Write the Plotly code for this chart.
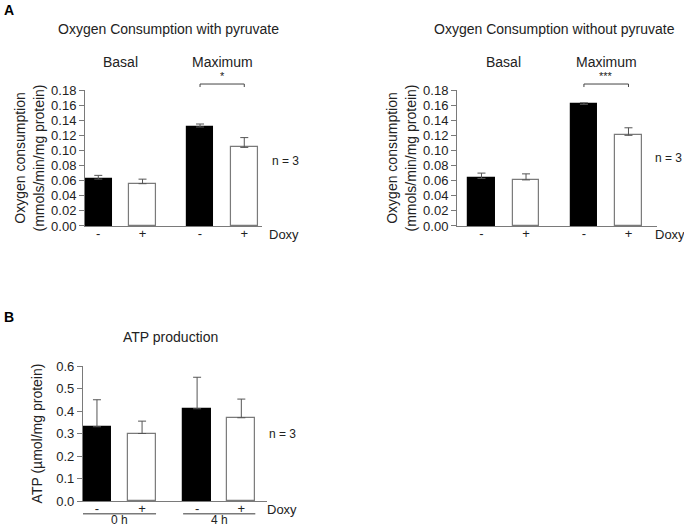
import plotly.graph_objects as go

# ---- dati ----
doxy = ["-", "+", "-", "+"]

pyr_mean = [0.062, 0.056, 0.131, 0.104]
pyr_err = [0.005, 0.006, 0.004, 0.013]

nopyr_mean = [0.063, 0.061, 0.161, 0.120]
nopyr_err = [0.007, 0.008, 0.002, 0.010]

atp_mean = [0.33, 0.30, 0.41, 0.37]
atp_err = [0.12, 0.055, 0.14, 0.083]

groups_a = ["Basal", "Maximum"]
groups_b = ["0 h", "4 h"]

# posizioni delle barre (layout)
pos_a = [0, 1, 2.3, 3.3]
pos_b = [0, 1, 2.22, 3.2]

FONT = "Arial, Liberation Sans, sans-serif"
GREY = "#7a7a7a"
fill = ["black", "white", "black", "white"]
edge = ["black", GREY, "black", GREY]

fig = go.Figure()


def add_bars(mean, err, pos, width, ax):
    fig.add_trace(go.Bar(
        x=pos, y=mean, width=width,
        marker=dict(color=fill, line=dict(color=edge, width=1.2)),
        error_y=dict(type="data", symmetric=False, array=err,
                     arrayminus=[0] * len(err), color="#555",
                     thickness=1, width=4),
        xaxis="x" + ax, yaxis="y" + ax, showlegend=False,
    ))


add_bars(pyr_mean, pyr_err, pos_a, 0.6, "")
add_bars(nopyr_mean, nopyr_err, pos_a, 0.6, "2")
add_bars(atp_mean, atp_err, pos_b, 0.62, "3")

xcommon = dict(showline=True, linecolor=GREY, linewidth=1, ticks="",
               showgrid=False, zeroline=False, tickmode="array",
               ticktext=doxy, tickfont=dict(size=13, color="#222"),
               ticklabelstandoff=-5, automargin=False)
ycommon = dict(showline=True, linecolor=GREY, linewidth=1, ticks="outside",
               ticklen=5, tickcolor=GREY, showgrid=False, zeroline=False,
               tickfont=dict(size=13, color="#222"), automargin=False)

ytitle_o2 = "Oxygen consumption<br>(mmols/min/mg protein)"

fig.update_layout(
    width=684, height=527,
    margin=dict(l=0, r=0, t=0, b=0),
    paper_bgcolor="white", plot_bgcolor="white",
    font=dict(family=FONT, size=13, color="#222"),
    bargap=0,
    xaxis=dict(xcommon, domain=[0.1243, 0.3830], range=[-0.3, 3.7],
               tickvals=pos_a, anchor="y"),
    yaxis=dict(ycommon, domain=[0.5712, 0.8292], range=[0, 0.18],
               dtick=0.02, tickformat=".2f", anchor="x",
               title=dict(text=ytitle_o2, standoff=3, font=dict(size=14))),
    xaxis2=dict(xcommon, domain=[0.6681, 0.9605], range=[-0.55, 3.94],
                tickvals=pos_a, anchor="y2"),
    yaxis2=dict(ycommon, domain=[0.5712, 0.8292], range=[0, 0.18],
                dtick=0.02, tickformat=".2f", anchor="x2",
                title=dict(text=ytitle_o2, standoff=3, font=dict(size=14))),
    xaxis3=dict(xcommon, domain=[0.1213, 0.3904], range=[-0.31, 3.77],
                tickvals=pos_b, anchor="y3"),
    yaxis3=dict(ycommon, domain=[0.0493, 0.3055], range=[0, 0.6],
                dtick=0.1, tickformat=".1f", anchor="x3",
                title=dict(text="ATP (µmol/mg protein)", standoff=10,
                           font=dict(size=14))),
)

ann = []
shapes = []

# lettere dei pannelli e titoli
ann.append(dict(text="<b>A</b>", x=0.003, y=1.0, xref="paper", yref="paper",
                xanchor="left", yanchor="top", font=dict(size=14, color="black")))
ann.append(dict(text="<b>B</b>", x=0.003, y=0.418, xref="paper", yref="paper",
                xanchor="left", yanchor="top", font=dict(size=14, color="black")))
ann.append(dict(text="Oxygen Consumption with pyruvate", x=0.247, y=0.945,
                xref="paper", yref="paper", font=dict(size=14)))
ann.append(dict(text="Oxygen Consumption without pyruvate", x=0.81, y=0.945,
                xref="paper", yref="paper", font=dict(size=14)))
ann.append(dict(text="ATP production", x=0.249, y=0.3605,
                xref="paper", yref="paper", font=dict(size=14)))

for ax, star in [("", "*"), ("2", "***")]:
    xr, yr = "x" + ax, "y" + ax + " domain"
    for g, name in enumerate(groups_a):
        xm = (pos_a[2 * g] + pos_a[2 * g + 1]) / 2
        ann.append(dict(text=name, x=xm, y=1.206, xref=xr, yref=yr,
                        font=dict(size=14)))
    # parentesi di significatività
    shapes.append(dict(type="path", xref=xr, yref=yr,
                       path=f"M {pos_a[2]},1.022 L {pos_a[2]},1.044 L {pos_a[3]},1.044 L {pos_a[3]},1.022",
                       line=dict(color="#444", width=1)))
    ann.append(dict(text=star, x=(pos_a[2] + pos_a[3]) / 2, y=1.1, xref=xr, yref=yr,
                    font=dict(size=11)))
    ann.append(dict(text="Doxy", x=1.03 if ax == "" else 0.98, y=-0.065,
                    xref="x" + ax + " domain", yref=yr, xanchor="left",
                    font=dict(size=13)))

ann.append(dict(text="n = 3", x=1.045, y=0.48, xref="x domain", yref="y domain",
                xanchor="left", font=dict(size=12)))
ann.append(dict(text="n = 3", x=1.0, y=0.5, xref="paper", yref="y2 domain",
                xanchor="right", font=dict(size=12)))

# pannello B
for g, name in enumerate(groups_b):
    x0 = pos_b[2 * g] - 0.31
    x1 = pos_b[2 * g + 1] + 0.31
    shapes.append(dict(type="line", xref="x3", yref="y3 domain", x0=x0, x1=x1,
                       y0=-0.095, y1=-0.095, line=dict(color=GREY, width=1.5)))
    ann.append(dict(text=name, x=(x0 + x1) / 2, y=-0.14, xref="x3",
                    yref="y3 domain", font=dict(size=12)))
ann.append(dict(text="n = 3", x=1.0, y=0.5, xref="x3 domain", yref="y3 domain",
                xanchor="left", font=dict(size=12)))
ann.append(dict(text="Doxy", x=0.99, y=-0.06, xref="x3 domain", yref="y3 domain",
                xanchor="left", font=dict(size=13)))

for a in ann:
    a.setdefault("showarrow", False)
    a.setdefault("xanchor", "center")
    a.setdefault("yanchor", "middle")
fig.update_layout(annotations=ann, shapes=shapes)

fig.write_html("out.html", config={"displayModeBar": False},
               post_script="document.body.style.margin='0';")
